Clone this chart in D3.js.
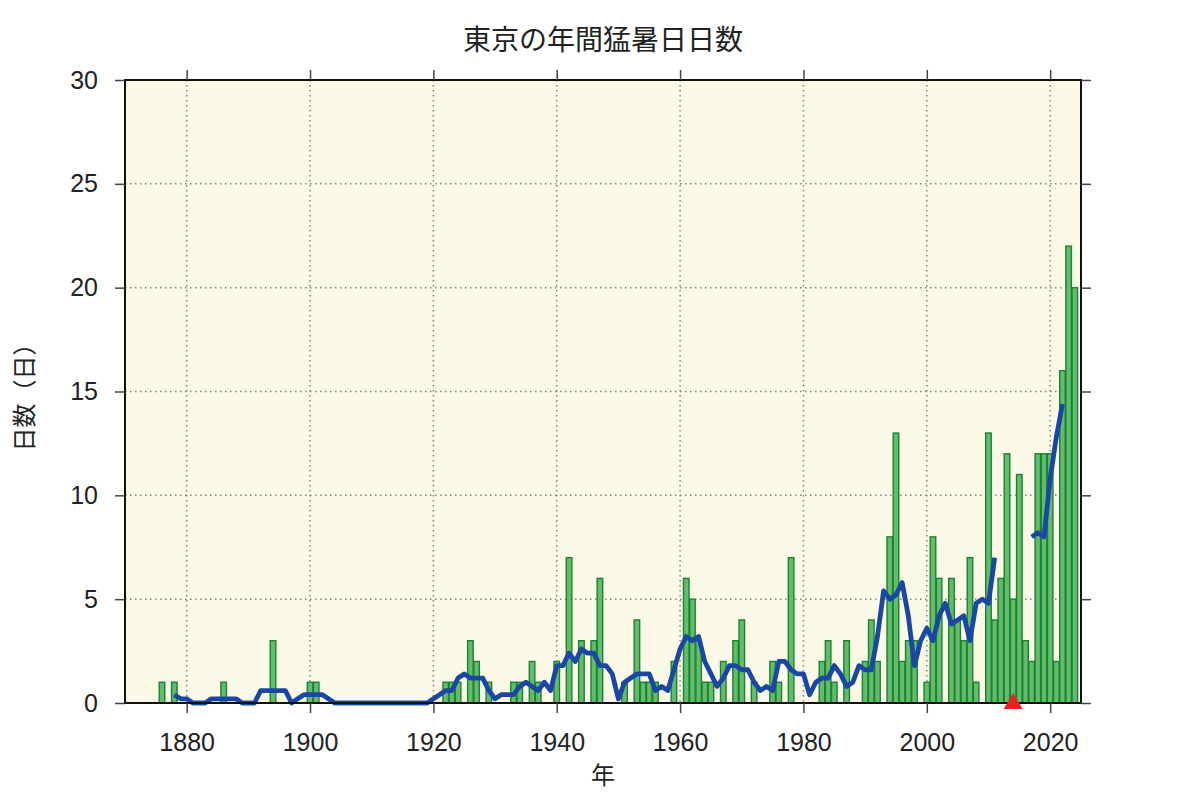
<!DOCTYPE html>
<html>
<head>
<meta charset="utf-8">
<script src="https://cdn.jsdelivr.net/npm/d3@7"></script>
<style>
  html, body { margin: 0; padding: 0; background: #fff; overflow: hidden; }
  #chart { display: block; }
</style>
</head>
<body>
<svg id="chart" width="1200" height="800"></svg>
<script>
// Tokyo, days >= 35C per year, 1876-2024
const firstYear = 1876
const hotDays = [
  1,0,1,0,0,0,0,0,0,0,      // 1876-1885
  1,0,0,0,0,0,0,0,3,0,      // 1886-1895
  0,0,0,0,1,1,0,0,0,0,      // 1896-1905
  0,0,0,0,0,0,0,0,0,0,      // 1906-1915
  0,0,0,0,0,0,1,1,1,0,      // 1916-1925
  3,2,0,1,0,0,0,1,1,0,      // 1926-1935
  2,1,0,0,2,0,7,0,3,0,      // 1936-1945
  3,6,0,0,0,1,0,4,1,1,      // 1946-1955
  1,0,0,2,0,6,5,3,1,1,      // 1956-1965
  0,2,0,3,4,0,1,0,0,2,      // 1966-1975
  1,0,7,0,0,0,0,2,3,1,      // 1976-1985
  0,3,0,0,2,4,2,0,8,13,     // 1986-1995
  2,3,3,0,1,8,6,0,6,4,      // 1996-2005
  3,7,1,0,13,4,6,12,5,11,   // 2006-2015
  3,2,12,12,12,2,16,22,20   // 2016-2024
]

// 5-year running mean (1878-2022), gap 2012-2016 (station moved 2014)
const meanFirstYear = 1878
const meanDays = [
  0.4,0.2,0.2,0,0,0,0.2,0.2,0.2,0.2,          // 1878-1887
  0.2,0,0,0,0.6,0.6,0.6,0.6,0.6,0,            // 1888-1897
  0.2,0.4,0.4,0.4,0.4,0.2,0,0,0,0,            // 1898-1907
  0,0,0,0,0,0,0,0,0,0,                        // 1908-1917
  0,0,0.2,0.4,0.6,0.6,1.2,1.4,1.2,1.2,        // 1918-1927
  1.2,0.6,0.2,0.4,0.4,0.4,0.8,1.0,0.8,0.6,    // 1928-1937
  1.0,0.6,1.8,1.8,2.4,2.0,2.6,2.4,2.4,1.8,    // 1938-1947
  1.8,1.4,0.2,1.0,1.2,1.4,1.4,1.4,0.6,0.8,    // 1948-1957
  0.6,1.6,2.6,3.2,3.0,3.2,2.0,1.4,0.8,1.2,    // 1958-1967
  1.8,1.8,1.6,1.6,1.0,0.6,0.8,0.6,2.0,2.0,    // 1968-1977
  1.6,1.4,1.4,0.4,1.0,1.2,1.2,1.8,1.4,0.8,    // 1978-1987
  1.0,1.8,1.6,1.6,3.2,5.4,5.0,5.2,5.8,4.2,    // 1988-1997
  1.8,3.0,3.6,3.0,4.2,4.8,3.8,4.0,4.2,3.0,    // 1998-2007
  4.8,5.0,4.8,7.0,null,null,null,null,null,8.0, // 2008-2017
  8.2,8.0,10.8,12.8,14.4                      // 2018-2022
]

const relocationYear = 2014
const xTicks = [1880, 1900, 1920, 1940, 1960, 1980, 2000, 2020]
const yTicks = [0, 5, 10, 15, 20, 25, 30]

const numFont = '"Liberation Sans", Arial, sans-serif'
const jpFont = '"Noto Sans CJK JP", "Noto Sans", sans-serif'

const margin = {left: 125, right: 119, top: 80, bottom: 97}
const svgWidth = 1200
const svgHeight = 800
const innerWidth = svgWidth - margin.left - margin.right
const innerHeight = svgHeight - margin.top - margin.bottom

const svg = d3.select('#chart')

const xScale = d3.scaleLinear().domain([1870, 2025]).range([0, innerWidth])
const yScale = d3.scaleLinear().domain([0, 30]).range([innerHeight, 0])

const chartGroup = svg.append('g')
  .attr('transform', `translate(${margin.left},${margin.top})`)

// background
chartGroup.append('rect')
  .attr('width', innerWidth)
  .attr('height', innerHeight)
  .attr('fill', '#fcfae6')

// dotted grid
chartGroup.append('g')
  .selectAll('line')
  .data(xTicks)
  .join('line')
  .attr('x1', d => xScale(d)).attr('x2', d => xScale(d))
  .attr('y1', 0).attr('y2', innerHeight)
  .attr('stroke', '#85857a')
  .attr('stroke-width', 1.5)
  .attr('stroke-dasharray', '1.5,3.5')

chartGroup.append('g')
  .selectAll('line')
  .data(yTicks.slice(1, -1))
  .join('line')
  .attr('x1', 0).attr('x2', innerWidth)
  .attr('y1', d => yScale(d)).attr('y2', d => yScale(d))
  .attr('stroke', '#85857a')
  .attr('stroke-width', 1.5)
  .attr('stroke-dasharray', '1.5,3.5')

// bars
const barData = hotDays.map((v, i) => ({year: firstYear + i, value: v}))
const step = xScale(1) - xScale(0)
const barW = step * 0.9

chartGroup.append('g')
  .selectAll('rect')
  .data(barData.filter(d => d.value > 0))
  .join('rect')
  .attr('x', d => xScale(d.year) - barW / 2)
  .attr('y', d => yScale(d.value))
  .attr('width', barW)
  .attr('height', d => yScale(0) - yScale(d.value))
  .attr('fill', '#66bb6a')
  .attr('stroke', '#168436')
  .attr('stroke-width', 1.4)

// running mean line
const meanData = meanDays.map((v, i) => ({year: meanFirstYear + i, value: v}))
const line = d3.line()
  .defined(d => d.value !== null)
  .x(d => xScale(d.year))
  .y(d => yScale(d.value))

chartGroup.append('path')
  .datum(meanData)
  .attr('d', line)
  .attr('fill', 'none')
  .attr('stroke', '#1a47a3')
  .attr('stroke-width', 4.8)
  .attr('stroke-linejoin', 'round')

// frame
chartGroup.append('rect')
  .attr('width', innerWidth)
  .attr('height', innerHeight)
  .attr('fill', 'none')
  .attr('stroke', '#111')
  .attr('stroke-width', 2)

// axes
const tickStyle = g => {
  g.attr('font-size', 25).attr('font-family', numFont)
  g.select('.domain').remove()
  g.selectAll('.tick line').attr('stroke', '#444').attr('stroke-width', 1.5)
  g.selectAll('.tick text').attr('fill', '#222')
}
const noText = g => g.selectAll('.tick text').remove()

chartGroup.append('g')
  .attr('transform', `translate(0,${innerHeight})`)
  .call(d3.axisBottom(xScale).tickValues(xTicks).tickFormat(d3.format('d')).tickSize(10).tickPadding(20))
  .call(tickStyle)

chartGroup.append('g')
  .call(d3.axisTop(xScale).tickValues(xTicks).tickSize(10))
  .call(tickStyle)
  .call(noText)

chartGroup.append('g')
  .call(d3.axisLeft(yScale).tickValues(yTicks).tickSize(10).tickPadding(17))
  .call(tickStyle)

chartGroup.append('g')
  .attr('transform', `translate(${innerWidth},0)`)
  .call(d3.axisRight(yScale).tickValues(yTicks).tickSize(10))
  .call(tickStyle)
  .call(noText)

// relocation marker
chartGroup.append('path')
  .attr('transform', `translate(${xScale(relocationYear)},${yScale(0)})`)
  .attr('d', 'M0,-10 L9.5,6 L-9.5,6 Z')
  .attr('fill', '#e8231f')

// title and axis titles
svg.append('text')
  .attr('x', margin.left + innerWidth / 2)
  .attr('y', 50)
  .attr('text-anchor', 'middle')
  .attr('font-family', jpFont)
  .attr('font-size', 28)
  .attr('fill', '#222')
  .text('東京の年間猛暑日日数')

svg.append('text')
  .attr('x', margin.left + innerWidth / 2)
  .attr('y', 784)
  .attr('text-anchor', 'middle')
  .attr('font-family', jpFont)
  .attr('font-size', 24)
  .attr('fill', '#222')
  .text('年')

svg.append('text')
  .attr('transform', `translate(33,${margin.top + innerHeight / 2}) rotate(-90)`)
  .attr('text-anchor', 'middle')
  .attr('font-family', jpFont)
  .attr('font-size', 24)
  .attr('fill', '#222')
  .text('日数（日）')
</script>
</body>
</html>
